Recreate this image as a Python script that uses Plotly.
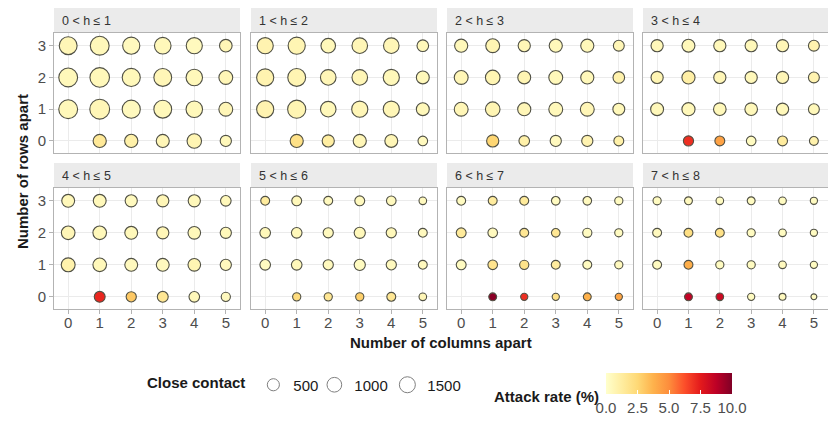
import math
import plotly.graph_objects as go

# ---------------- data ----------------
panel_labels = ["0 < h ≤ 1", "1 < h ≤ 2", "2 < h ≤ 3", "3 < h ≤ 4",
                "4 < h ≤ 5", "5 < h ≤ 6", "6 < h ≤ 7", "7 < h ≤ 8"]
columns_apart = [0, 1, 2, 3, 4, 5]
rows_apart = [0, 1, 2, 3]
legend_sizes = [500, 1000, 1500]
colorbar_ticks = [0, 2.5, 5, 7.5, 10]
colorbar_ticktext = ["0.0", "2.5", "5.0", "7.5", "10.0"]

# close contacts, rows = rows apart 0..3, columns = columns apart 0..5
contacts_h1 = [[None, 690, 700, 660, 950, 370],
               [2150, 2480, 1920, 1830, 1450, 820],
               [2130, 2380, 1900, 1820, 1440, 810],
               [1830, 2150, 1620, 1460, 1350, 580]]
contacts_h2 = [[None, 680, 516, 680, 635, 185],
               [1629, 1930, 1200, 1353, 1353, 635],
               [1629, 1837, 1200, 1200, 1353, 635],
               [1353, 1629, 965, 1200, 1200, 424]]
contacts_h3 = [[None, 516, 292, 368, 368, 214],
               [826, 965, 680, 826, 826, 469],
               [826, 965, 635, 826, 680, 424],
               [680, 826, 516, 680, 680, 329]]
contacts_h4 = [[None, 246, 214, 185, 214, 125],
               [635, 680, 582, 582, 516, 329],
               [516, 680, 516, 516, 516, 329],
               [516, 635, 516, 516, 516, 329]]
contacts_h5 = [[None, 329, 246, 329, 292, 149],
               [826, 766, 635, 635, 582, 368],
               [766, 766, 635, 516, 582, 368],
               [635, 635, 516, 516, 516, 292]]
contacts_h6 = [[None, 77, 77, 77, 125, 47],
               [292, 292, 246, 368, 246, 125],
               [292, 292, 246, 368, 246, 125],
               [125, 214, 125, 214, 185, 47]]
contacts_h7 = [[None, 61, 32, 32, 61, 32],
               [214, 185, 149, 125, 125, 77],
               [214, 185, 125, 103, 149, 77],
               [125, 125, 125, 103, 103, 77]]
contacts_h8 = [[None, 61, 47, 32, 23, 10],
               [125, 125, 77, 77, 47, 32],
               [125, 125, 125, 77, 47, 32],
               [77, 61, 47, 61, 47, 32]]

# attack rate (%)
attack_h1 = [[None, 1.5, 1.0, 0.6, 0.7, 0.5],
             [0.5, 0.6, 0.4, 0.5, 0.5, 0.6],
             [0.5, 0.5, 0.5, 0.6, 0.5, 0.6],
             [0.6, 0.5, 0.4, 0.5, 0.4, 0.6]]
attack_h2 = [[None, 2.0, 1.2, 0.6, 0.6, 0.4],
             [0.8, 0.7, 0.5, 0.6, 0.6, 0.5],
             [0.8, 0.7, 0.6, 0.6, 0.5, 0.5],
             [0.8, 0.7, 0.5, 0.6, 0.6, 0.5]]
attack_h3 = [[None, 2.6, 1.0, 0.4, 0.8, 1.0],
             [0.6, 0.7, 0.6, 0.5, 0.6, 0.5],
             [0.6, 0.7, 0.7, 0.5, 0.5, 0.9],
             [0.5, 0.7, 0.6, 0.5, 0.5, 0.6]]
attack_h4 = [[None, 7.0, 4.3, 0.3, 1.3, 0.9],
             [0.5, 0.5, 0.5, 0.5, 0.5, 0.5],
             [0.7, 1.1, 0.6, 0.5, 0.6, 0.8],
             [0.5, 0.5, 0.5, 0.5, 0.6, 0.8]]
attack_h5 = [[None, 7.2, 3.0, 1.6, 0.5, 0.4],
             [0.9, 0.5, 0.4, 0.4, 0.7, 0.4],
             [0.6, 0.5, 0.5, 0.6, 0.5, 0.5],
             [0.5, 0.5, 0.4, 0.6, 0.5, 0.5]]
attack_h6 = [[None, 2.3, 1.6, 2.8, 1.6, 0.6],
             [0.3, 0.5, 0.4, 0.3, 0.4, 0.4],
             [0.5, 0.5, 0.4, 0.5, 0.5, 0.4],
             [1.3, 0.5, 0.4, 0.4, 0.4, 0.4]]
attack_h7 = [[None, 9.8, 7.0, 2.0, 3.8, 4.2],
             [0.3, 1.8, 1.9, 1.3, 0.3, 0.4],
             [1.4, 0.4, 1.6, 1.6, 0.3, 0.3],
             [0.3, 1.3, 1.4, 0.3, 0.4, 0.3]]
attack_h8 = [[None, 8.6, 8.3, 0.3, 0.4, 0.3],
             [0.3, 3.9, 0.3, 0.3, 0.4, 0.3],
             [0.4, 2.1, 2.0, 0.3, 0.3, 0.3],
             [0.3, 0.4, 0.3, 0.3, 0.3, 0.3]]

contacts = [contacts_h1, contacts_h2, contacts_h3, contacts_h4,
            contacts_h5, contacts_h6, contacts_h7, contacts_h8]
attacks = [attack_h1, attack_h2, attack_h3, attack_h4,
           attack_h5, attack_h6, attack_h7, attack_h8]

# ---------------- style / layout ----------------
FONT = "Liberation Sans, Arial, sans-serif"
W, H = 828, 430
col_left = [54, 251, 447, 643]
panel_w = 186
row_top = [33, 188]
panel_h = [120, 121]
strip_h = 25
LINE_W = 1.1
TICK_FS = 15
TITLE_FS = 15

ylorrd = [[0.0, "#ffffcc"], [0.125, "#ffeda0"], [0.25, "#fed976"],
          [0.375, "#feb24c"], [0.5, "#fd8d3c"], [0.625, "#fc4e2a"],
          [0.75, "#e31a1c"], [0.875, "#bd0026"], [1.0, "#800026"]]
legend_item_widths = [16, 28, 35]


def size_scale(n):
    # area-like scale: outer diameter from 7 px to ~21 px
    return 7 + 0.28 * math.sqrt(max(n - 10, 0)) - LINE_W


fig = go.Figure()
layout = {}
shapes = []
annotations = []

for i in range(8):
    r, c = divmod(i, 4)
    left = col_left[c]
    right = min(left + panel_w, W)
    top = row_top[r]
    bottom = top + panel_h[r]
    sfx = "" if i == 0 else str(i + 1)
    xs, ys, cs, ss, hov = [], [], [], [], []
    for ri, yv in enumerate(rows_apart):
        for ci, xv in enumerate(columns_apart):
            n = contacts[i][ri][ci]
            if n is None:
                continue
            xs.append(xv)
            ys.append(yv)
            cs.append(attacks[i][ri][ci])
            ss.append(size_scale(n))
            hov.append(n)
    fig.add_trace(go.Scatter(
        x=xs, y=ys, mode="markers", xaxis="x" + sfx, yaxis="y" + sfx,
        customdata=hov, showlegend=False,
        hovertemplate="cols %{x}, rows %{y}<br>contacts %{customdata}<br>AR %{marker.color}%<extra></extra>",
        marker=dict(size=ss, color=cs, coloraxis="coloraxis", opacity=1,
                    line=dict(color="rgb(80,80,68)", width=LINE_W))))
    layout["xaxis" + sfx] = dict(
        domain=[left / W, right / W], range=[-0.45, 5.45], anchor="y" + sfx,
        tickvals=columns_apart, showticklabels=(r == 1),
        ticks="outside" if r == 1 else "", ticklen=4, tickcolor="#b3b3b3",
        ticklabelstandoff=-4,
        showgrid=True, gridcolor="#ebebeb", gridwidth=1, zeroline=False,
        showline=True, mirror=True, linecolor="#b3b3b3", linewidth=1,
        tickfont=dict(size=TICK_FS, color="#4d4d4d", family=FONT))
    layout["yaxis" + sfx] = dict(
        domain=[1 - bottom / H, 1 - top / H], range=[-0.38, 3.4], anchor="x" + sfx,
        tickvals=rows_apart, showticklabels=(c == 0),
        ticks="outside" if c == 0 else "", ticklen=4, tickcolor="#b3b3b3",
        showgrid=True, gridcolor="#ebebeb", gridwidth=1, zeroline=False,
        showline=True, mirror=True, linecolor="#b3b3b3", linewidth=1,
        tickfont=dict(size=TICK_FS, color="#4d4d4d", family=FONT))
    shapes.append(dict(type="rect", xref="paper", yref="paper",
                       x0=left / W, x1=right / W,
                       y0=1 - top / H, y1=1 - (top - strip_h) / H,
                       fillcolor="#ebebeb", line=dict(width=0), layer="below"))
    annotations.append(dict(text=panel_labels[i], xref="paper", yref="paper",
                            x=(left + 6) / W, y=1 - (top - strip_h / 2) / H,
                            xanchor="left", yanchor="middle", showarrow=False,
                            font=dict(size=12.5, color="#333333", family=FONT)))

# size legend entries
for v, lw in zip(legend_sizes, legend_item_widths):
    fig.add_trace(go.Scatter(
        x=[None], y=[None], mode="markers", name=str(v), showlegend=True,
        legendwidth=lw,
        marker=dict(size=size_scale(v), color="white",
                    line=dict(color="#7f7f7f", width=1))))

annotations += [
    dict(text="<b>Number of rows apart</b>", xref="paper", yref="paper",
         x=22 / W, y=1 - 172 / H, textangle=-90, showarrow=False,
         xanchor="center", yanchor="middle",
         font=dict(size=TITLE_FS, color="#1a1a1a", family=FONT)),
    dict(text="<b>Number of columns apart</b>", xref="paper", yref="paper",
         x=441 / W, y=1 - 342 / H, showarrow=False,
         xanchor="center", yanchor="middle",
         font=dict(size=TITLE_FS, color="#1a1a1a", family=FONT)),
    dict(text="<b>Attack rate (%)</b>", xref="paper", yref="paper",
         x=601 / W, y=1 - 396 / H, showarrow=False,
         xanchor="right", yanchor="middle",
         font=dict(size=TITLE_FS, color="#1a1a1a", family=FONT)),
]

fig.update_layout(
    width=W, height=H,
    margin=dict(l=0, r=0, t=0, b=0, autoexpand=False),
    paper_bgcolor="white", plot_bgcolor="white",
    font=dict(family=FONT, color="#1a1a1a"),
    shapes=shapes, annotations=annotations,
    coloraxis=dict(
        cmin=0, cmax=10, colorscale=ylorrd,
        colorbar=dict(
            orientation="h", x=606 / W, xanchor="left",
            y=1 - 373 / H, yanchor="top",
            len=126, lenmode="pixels", thickness=21, thicknessmode="pixels",
            tickvals=colorbar_ticks, ticktext=colorbar_ticktext,
            ticks="inside", ticklen=4, tickcolor="white", tickwidth=1,
            outlinewidth=0, xpad=0, ypad=0,
            tickfont=dict(size=TICK_FS, color="#4d4d4d", family=FONT),
            title=dict(text=""))),
    legend=dict(
        orientation="h", x=145 / W, xanchor="left", y=1 - 385 / H, yanchor="middle",
        title=dict(text="<b>Close contact</b>", side="left",
                   font=dict(size=TITLE_FS, color="#1a1a1a", family=FONT)),
        font=dict(size=TICK_FS, color="#1a1a1a", family=FONT),
        itemsizing="trace", bgcolor="rgba(0,0,0,0)", borderwidth=0),
    **layout)

fig.write_html("out.html", config={"displayModeBar": False},
               post_script="document.body.style.margin='0px';document.body.style.padding='0px';")
